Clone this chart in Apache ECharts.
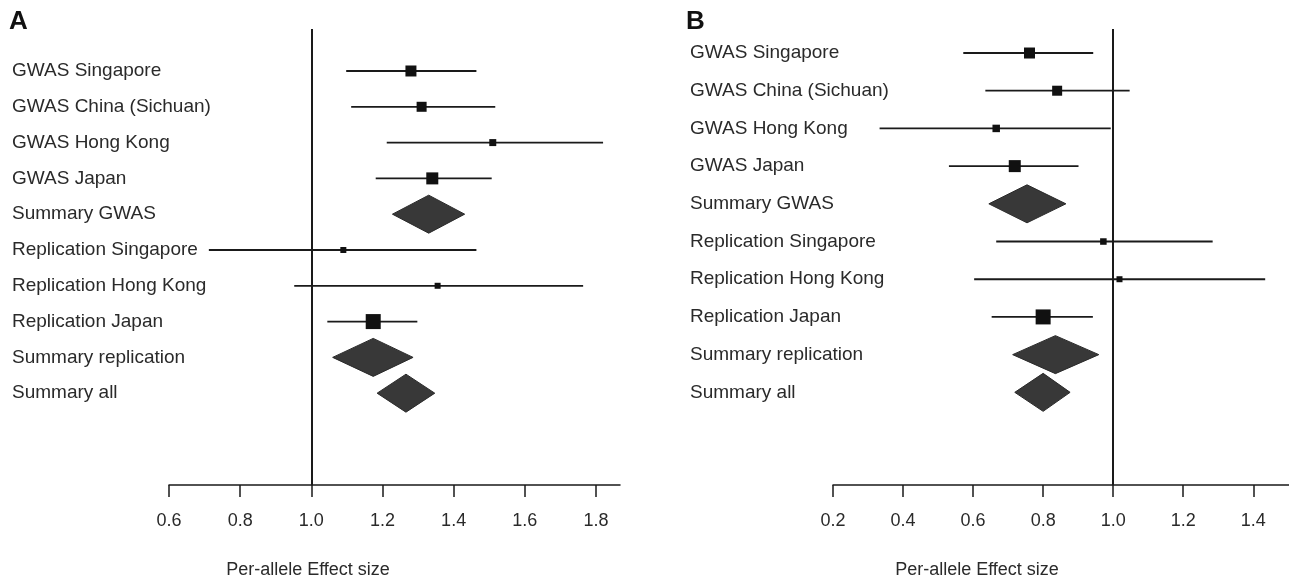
<!DOCTYPE html>
<html>
<head>
<meta charset="utf-8">
<script src="https://cdn.jsdelivr.net/npm/echarts@6/dist/echarts.min.js"></script>
<style>
html,body{margin:0;padding:0;background:#fff;}
#chart{width:1289px;height:583px;}
</style>
</head>
<body>
<div id="chart"></div>
<script>
// ---------- data ----------
const rowLabels = ["GWAS Singapore","GWAS China (Sichuan)","GWAS Hong Kong","GWAS Japan","Summary GWAS",
  "Replication Singapore","Replication Hong Kong","Replication Japan","Summary replication","Summary all"];
const isSummary = [0,0,0,0,1,0,0,0,1,1];

// Panel A
const estA  = [1.28, 1.31, 1.51, 1.34, 1.33, 1.09, 1.355, 1.174, 1.174, 1.266];
const lowA  = [1.098, 1.112, 1.212, 1.181, 1.228, 0.712, 0.952, 1.045, 1.06, 1.185];
const highA = [1.464, 1.517, 1.82, 1.507, 1.431, 1.464, 1.764, 1.298, 1.286, 1.347];
const weightA = [15.1, 12.5, 6.1, 18, 0, 4.5, 4.5, 28.1, 0, 0];
const ticksA = [0.6, 0.8, 1.0, 1.2, 1.4, 1.6, 1.8];

// Panel B
const estB  = [0.761, 0.840, 0.666, 0.719, 0.754, 0.972, 1.018, 0.80, 0.835, 0.80];
const lowB  = [0.572, 0.635, 0.333, 0.531, 0.645, 0.666, 0.603, 0.653, 0.713, 0.719];
const highB = [0.943, 1.047, 0.993, 0.901, 0.865, 1.284, 1.434, 0.942, 0.959, 0.877];
const weightB = [15.1, 12.5, 7, 18, 0, 5.3, 4.5, 28.1, 0, 0];
const ticksB = [0.2, 0.4, 0.6, 0.8, 1.0, 1.2, 1.4];

const axisTitle = "Per-allele Effect size";
const refValue = 1.0;

// ---------- chart ----------
const FONT = '"Liberation Sans", Arial, Helvetica, sans-serif';
const INK = '#1a1a1a';

function build(est, low, high, w) {
  return rowLabels.map((_, i) => [i, est[i], low[i], high[i], w[i], isSummary[i]]);
}

function renderForest(params, api) {
  const i = api.value(0), est = api.value(1), lo = api.value(2), hi = api.value(3);
  const w = api.value(4), summ = api.value(5);
  const pE = api.coord([est, i]), pL = api.coord([lo, i]), pH = api.coord([hi, i]);
  const y = pE[1];
  if (summ) {
    const h = 19;
    return {
      type: 'polygon',
      shape: { points: [[pL[0], y], [pE[0], y - h], [pH[0], y], [pE[0], y + h]] },
      style: { fill: '#383838', stroke: '#2a2a2a', lineWidth: 1 }
    };
  }
  const s = 2.83 * Math.sqrt(w);
  return {
    type: 'group',
    children: [
      { type: 'line', shape: { x1: pL[0], y1: y, x2: pH[0], y2: y },
        style: { stroke: INK, lineWidth: 1.8 } },
      { type: 'rect', shape: { x: pE[0] - s / 2, y: y - s / 2, width: s, height: s },
        style: { fill: '#111' } }
    ]
  };
}

function xAxisCfg(idx, min, max, ticks, margin) {
  return {
    type: 'value', gridIndex: idx, min: min, max: max,
    splitLine: { show: false },
    axisLine: { show: true, onZero: false, lineStyle: { color: INK, width: 1.5 } },
    axisTick: { show: true, length: 12, inside: false, customValues: ticks,
      lineStyle: { color: INK, width: 1.5 } },
    axisLabel: { show: true, customValues: ticks, margin: margin, color: '#2a2a2a',
      fontFamily: FONT, fontSize: 18, formatter: v => v.toFixed(1) }
  };
}

function yAxisCfg(idx, min, max, margin) {
  return {
    type: 'value', gridIndex: idx, inverse: true, min: min, max: max,
    splitLine: { show: false }, axisLine: { show: false }, axisTick: { show: false },
    axisLabel: { show: true, customValues: rowLabels.map((_, i) => i), align: 'left',
      margin: margin, color: '#2a2a2a', fontFamily: FONT, fontSize: 19,
      formatter: v => rowLabels[Math.round(v)] }
  };
}

const refLine = {
  silent: true, symbol: 'none', animation: false,
  label: { show: false },
  lineStyle: { color: INK, width: 2, type: 'solid' },
  data: [{ xAxis: refValue }]
};

const option = {
  animation: false,
  backgroundColor: '#fff',
  grid: [
    { left: 169, top: 29, width: 451, height: 456, outerBoundsMode: 'none', containLabel: false },
    { left: 833, top: 29, width: 456, height: 456, outerBoundsMode: 'none', containLabel: false }
  ],
  xAxis: [
    xAxisCfg(0, 0.6, 1.8676, ticksA, 27),
    xAxisCfg(1, 0.2, 1.502, ticksB, 27)
  ],
  yAxis: [
    yAxisCfg(0, -1.173, 11.565, 157),
    yAxisCfg(1, -0.637, 11.458, 143)
  ],
  series: [
    { type: 'custom', xAxisIndex: 0, yAxisIndex: 0, renderItem: renderForest,
      data: build(estA, lowA, highA, weightA), encode: { x: [1, 2, 3], y: 0 },
      clip: false, markLine: refLine },
    { type: 'custom', xAxisIndex: 1, yAxisIndex: 1, renderItem: renderForest,
      data: build(estB, lowB, highB, weightB), encode: { x: [1, 2, 3], y: 0 },
      clip: false, markLine: refLine }
  ],
  graphic: [
    { type: 'text', left: 9, top: 9, style: { text: 'A', font: 'bold 26px ' + FONT, fill: '#111' } },
    { type: 'text', left: 686, top: 9, style: { text: 'B', font: 'bold 26px ' + FONT, fill: '#111' } },
    { type: 'text', x: 308, y: 570, style: { text: axisTitle, font: '18px ' + FONT, fill: '#2a2a2a',
      align: 'center', verticalAlign: 'middle' } },
    { type: 'text', x: 977, y: 570, style: { text: axisTitle, font: '18px ' + FONT, fill: '#2a2a2a',
      align: 'center', verticalAlign: 'middle' } }
  ]
};

const chart = echarts.init(document.getElementById('chart'), null, { renderer: 'canvas' });
chart.setOption(option);
</script>
</body>
</html>
